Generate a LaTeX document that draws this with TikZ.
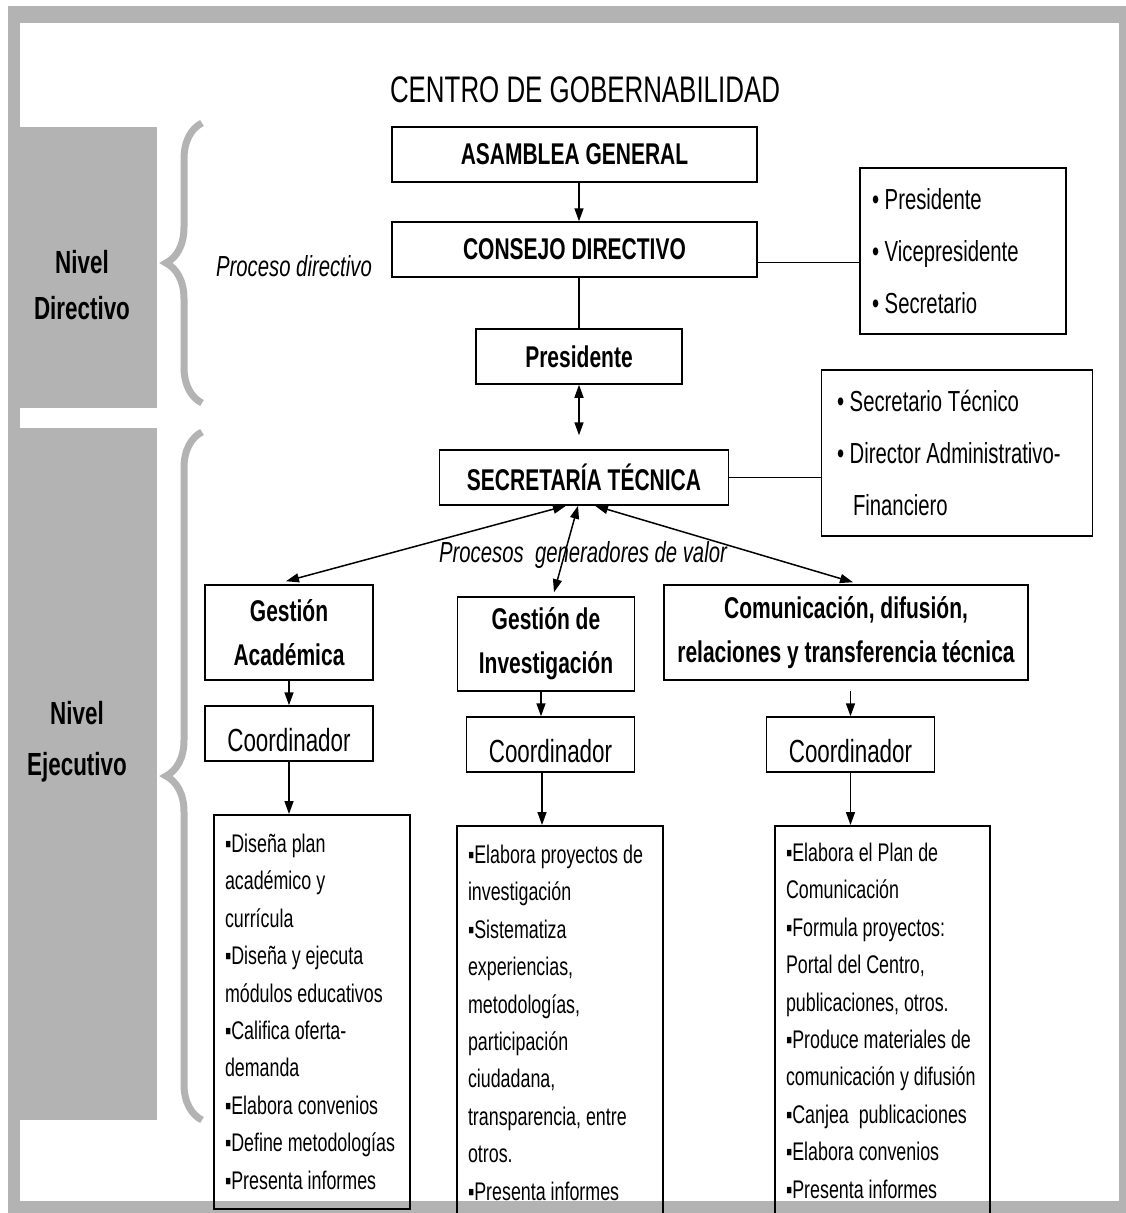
\documentclass[tikz,border=0pt]{standalone}
\usepackage{fontspec}
\setmainfont{Liberation Sans}[FakeStretch=0.7]
\usetikzlibrary{arrows.meta, decorations.pathreplacing}
\definecolor{marco}{HTML}{B3B3B3}

\begin{document}
\begin{tikzpicture}[x=1pt, y=-1pt, >={Triangle[length=13pt, width=9pt]}, line width=1.5pt,
        caja/.style={draw, inner sep=0pt, align=flush center, font=\fontsize{30}{44}\selectfont\bfseries},
        coord/.style={draw, inner sep=0pt, minimum width=168pt, minimum height=55pt, text height=36pt, text depth=0pt, font=\fontsize{32}{38}\selectfont},
        lista/.style={draw, align=flush left, inner ysep=0pt, font=\fontsize{29}{52}\selectfont},
        tareas/.style={draw, anchor=north, align=flush left, inner ysep=0pt, font=\fontsize{25.5}{37.4}\selectfont},
        llave/.style={draw=marco, line width=7pt, decorate, decoration={brace, amplitude=36pt}}]
    \useasboundingbox (0,0) rectangle (1126,1213);

    % Marco y niveles
    \fill[marco] (8,6) rectangle (1126,1213);
    \fill[white] (20,23) rectangle (1119,1201);
    \fill[marco] (8,127) rectangle (157,408);
    \fill[marco] (8,428) rectangle (157,1120);
    \draw[llave] (202,403) -- (202,123);
    \draw[llave] (202,1120) -- (202,432);

    % Textos
    \node[font=\fontsize{37}{44}\selectfont] (titulo) at (585,90) {CENTRO DE GOBERNABILIDAD};
    \node[align=flush center, font=\fontsize{32}{46}\selectfont\bfseries] (ndir) at (82,285) {Nivel\\Directivo};
    \node[align=flush center, font=\fontsize{32}{51}\selectfont\bfseries] (neje) at (77,742) {Nivel\\Ejecutivo};
    \node[font=\fontsize{29}{34}\selectfont\itshape] (pdir) at (294,266) {Proceso directivo};
    \node[font=\fontsize{29}{34}\selectfont\itshape] (pgen) at (583,555) {Procesos\ \ generadores de valor};

    % Define nodes
    \node[caja, minimum width=365pt, minimum height=55pt] (asamblea) at (574.5,154.5) {ASAMBLEA GENERAL};
    \node[caja, minimum width=365pt, minimum height=55pt] (consejo) at (574.5,249.5) {CONSEJO DIRECTIVO};
    \node[caja, minimum width=206pt, minimum height=55pt] (presid) at (579,356.5) {Presidente};
    \node[caja, minimum width=289pt, minimum height=55pt] (secret) at (584,477.5) {SECRETARÍA TÉCNICA};
    \node[caja, minimum width=168pt, minimum height=95pt] (gacad) at (289,632.5) {Gestión\\Académica};
    \node[caja, minimum width=177pt, minimum height=94pt] (ginv) at (546,644) {Gestión de\\Investigación};
    \node[caja, minimum width=364pt, minimum height=95pt] (gcom) at (846,632.5) {Comunicación, difusión,\\relaciones y transferencia técnica};

    \node[lista, text width=182pt, inner xsep=12pt, minimum height=166pt] (miembros) at (963,251)
        {• Presidente\\• Vicepresidente\\• Secretario};
    \node[lista, text width=240pt, inner xsep=15.5pt, minimum height=166pt] (apoyo) at (957,453)
        {• Secretario Técnico\\• Director Administrativo-\\\hspace*{16pt}Financiero};

    \node[coord] (coord1) at (289,733.5) {Coordinador};
    \node[coord] (coord2) at (550.5,744.5) {Coordinador};
    \node[coord] (coord3) at (850.5,744.5) {Coordinador};

    \node[tareas, text width=174pt, inner xsep=11pt, minimum height=394pt] (tareas1) at (312,814)
        {▪Diseña plan\\académico y\\currícula\\▪Diseña y ejecuta\\módulos educativos\\▪Califica oferta-\\demanda\\▪Elabora convenios\\▪Define metodologías\\▪Presenta informes};
    \node[tareas, text width=184pt, inner xsep=11pt, minimum height=394pt] (tareas2) at (560,825)
        {▪Elabora proyectos de\\investigación\\▪Sistematiza\\experiencias,\\metodologías,\\participación\\ciudadana,\\transparencia, entre\\otros.\\▪Presenta informes};
    \node[tareas, text width=193pt, inner xsep=11pt, minimum height=390pt] (tareas3) at (882.5,825)
        {▪Elabora el Plan de\\Comunicación\\▪Formula proyectos:\\Portal del Centro,\\publicaciones, otros.\\▪Produce materiales de\\comunicación y difusión\\▪Canjea\ \ publicaciones\\▪Elabora convenios\\▪Presenta informes};

    % Conectores
    \draw[->] (asamblea.south -| presid) -- (consejo.north -| presid);
    \draw (consejo.south -| presid) -- (presid);
    \draw ([yshift=-13pt]consejo.east) -- ([yshift=-13pt]consejo.east -| miembros.west);
    \draw[<->] (presid.south) -- ([yshift=14pt]secret.north -| presid.south);
    \draw (secret.east) -- (secret.east -| apoyo.west);
    \draw[<->] ([xshift=-18pt]secret.south) -- ([xshift=-3pt, yshift=3pt]gacad.north);
    \draw[<->] ([xshift=-6pt]secret.south) -- ([xshift=8pt, yshift=4pt]ginv.north);
    \draw[<->] ([xshift=11pt]secret.south) -- ([xshift=7pt, yshift=2pt]gcom.north);
    \draw[->] (gacad) -- (coord1);
    \draw[->] ([xshift=-5pt]ginv.south) -- ([xshift=-5pt]ginv.south |- coord2.north);
    \draw[->] ([yshift=-10pt]gcom.south -| coord3) -- (coord3);
    \draw[->] (coord1) -- (coord1 |- tareas1.north);
    \draw[->] ([xshift=-8.5pt]coord2.south) -- ([xshift=-8.5pt]coord2.south |- tareas2.north);
    \draw[->] (coord3) -- (coord3 |- tareas3.north);
\end{tikzpicture}
\end{document}
